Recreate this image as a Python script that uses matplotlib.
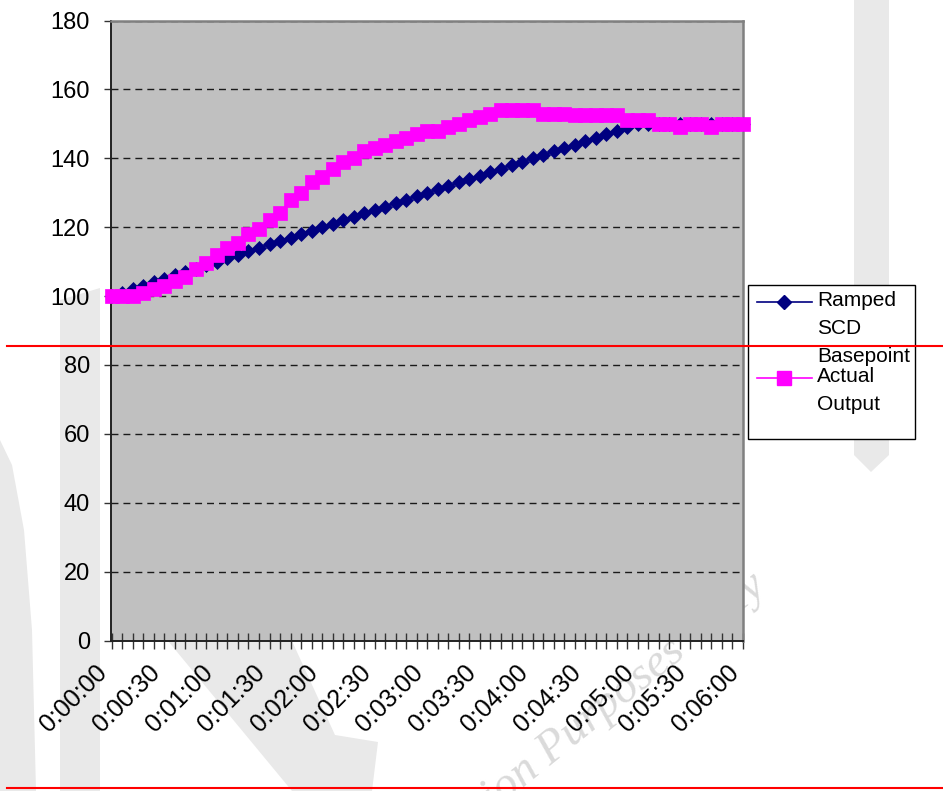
import matplotlib
matplotlib.use("Agg")
import matplotlib.pyplot as plt
import matplotlib.transforms as mtransforms
from matplotlib.lines import Line2D
from matplotlib.patches import Rectangle, Polygon
import numpy as np

plt.rcParams["font.family"] = ["Liberation Sans", "DejaVu Sans"]
plt.rcParams["lines.scale_dashes"] = False

# ---- data -------------------------------------------------------------
time_labels = ["0:00:00", "0:00:30", "0:01:00", "0:01:30", "0:02:00",
               "0:02:30", "0:03:00", "0:03:30", "0:04:00", "0:04:30",
               "0:05:00", "0:05:30", "0:06:00"]
samples_per_label = 5          # one sample every 6 s, a label every 30 s

basepoint = [100, 101, 102, 103, 104, 105, 106, 107, 108, 109,
             110, 111, 112, 113, 114, 115, 116, 117, 118, 119,
             120, 121, 122, 123, 124, 125, 126, 127, 128, 129,
             130, 131, 132, 133, 134, 135, 136, 137, 138, 139,
             140, 141, 142, 143, 144, 145, 146, 147, 148, 149,
             150, 150, 150, 150, 150, 150, 150, 150, 150, 150, 150]

actual = [100, 100, 100, 101, 102, 103, 104.5, 105.5, 108, 109.5,
          112, 114, 115.5, 118, 119.5, 122, 124, 128, 130, 133,
          134.5, 137, 139, 140, 142, 143, 144, 145, 146, 147,
          148, 148, 149, 150, 151, 152, 153, 154, 154, 154,
          154, 153, 153, 153, 152.5, 152.5, 152.5, 152.5, 152.5, 151,
          151, 151, 150, 150, 149, 150, 150, 149, 150, 150, 150]

series_names = ["Ramped\nSCD\nBasepoint", "Actual\nOutput"]
series_colors = ["#000080", "#FF00FF"]

y_ticks = [0, 20, 40, 60, 80, 100, 120, 140, 160, 180]

# ---- figure ------------------------------------------------------------
W, H = 943, 791
fig = plt.figure(figsize=(W / 100, H / 100), dpi=100)


def fx(px):
    return px / W


def fy(py):
    return 1 - py / H


# faint background watermark
wm = "#E9E9E9"
for pts in ([(60, 300), (100, 288), (100, 791), (60, 791)],
            [(0, 440), (12, 465), (24, 530), (32, 630), (36, 791), (0, 791)],
            [(168, 641), (292, 641), (335, 735), (378, 742), (372, 791), (292, 791)],
            [(854, 0), (889, 0), (889, 455), (871, 472), (854, 455)]):
    fig.add_artist(Polygon([(fx(x), fy(y)) for x, y in pts], closed=True,
                           transform=fig.transFigure, fc=wm, ec="none", zorder=-10))
fig.text(fx(768), fy(590), "Information Purposes Only", rotation=39,
         rotation_mode="anchor", ha="right", va="baseline", fontsize=34,
         family=["Liberation Serif", "DejaVu Serif"], style="italic",
         color="#DADADA", zorder=-9)

ax = fig.add_axes([fx(110.7), fy(640.5), fx(743) - fx(110.7), fy(20.5) - fy(640.5)])
ax.set_facecolor("#C0C0C0")

x = np.arange(len(basepoint))
ax.plot(x, basepoint, color=series_colors[0], lw=1.2, marker="D", ms=7.6,
        mfc=series_colors[0], mec=series_colors[0], mew=0.5, zorder=3, clip_on=False)
ax.plot(x, actual, color=series_colors[1], lw=1.2, marker="s", ms=9.5,
        mfc=series_colors[1], mec=series_colors[1], mew=0.5, zorder=4, clip_on=False)

ax.set_xlim(-0.095, len(basepoint) - 1)
ax.set_ylim(y_ticks[0], y_ticks[-1])
ax.set_yticks(y_ticks)
ax.set_xticks(x)
ax.tick_params(axis="x", direction="inout", length=11.5, width=1,
               color="#333333", labelbottom=False)
ax.tick_params(axis="y", direction="out", length=5, width=1, pad=10,
               labelsize=17, color="#333333")

ax.set_axisbelow(True)
ax.grid(axis="y", color="#1a1a1a", lw=1, linestyle=(0, (5, 3.6)))

for side in ("left", "bottom"):
    ax.spines[side].set_color("#222222")
    ax.spines[side].set_linewidth(1.4)
for side in ("top", "right"):
    ax.spines[side].set_color("#808080")
    ax.spines[side].set_linewidth(1.8)

# rotated time labels, every 30 s
label_trans = (mtransforms.blended_transform_factory(ax.transData, ax.transAxes)
               + mtransforms.ScaledTranslation(-0.08, -0.28, fig.dpi_scale_trans))
for k, lab in enumerate(time_labels):
    ax.text(k * samples_per_label, 0, lab, transform=label_trans, rotation=45,
            rotation_mode="anchor", ha="right", va="center", fontsize=18,
            clip_on=False)

# legend box
fig.add_artist(Rectangle((fx(748), fy(439)), fx(915) - fx(748), fy(285) - fy(439),
                         transform=fig.transFigure, fc="white", ec="black",
                         lw=1, zorder=5))
entry_rows = [[301, 329, 357], [377, 405]]
markers = ["D", "s"]
msizes = [7.2, 10]
for name, color, rows, mk, msz in zip(series_names, series_colors, entry_rows,
                                       markers, msizes):
    ysamp = fy(rows[0] + 1)
    fig.add_artist(Line2D([fx(757), fx(812)], [ysamp, ysamp], color=color, lw=1.2,
                          transform=fig.transFigure, zorder=6))
    fig.add_artist(Line2D([fx(784)], [ysamp], marker=mk, ms=msz, color=color,
                          mec=color, transform=fig.transFigure, zorder=6))
    for line, yrow in zip(name.split("\n"), rows):
        fig.text(fx(817), fy(yrow), line, ha="left", va="center", fontsize=15,
                 zorder=7)

# red rule lines across the page
for yr in (346, 788):
    fig.add_artist(Line2D([fx(7), 1.0], [fy(yr), fy(yr)], color="#FF0000", lw=1.5,
                          transform=fig.transFigure, zorder=20))

fig.savefig("out.png", dpi=100)
